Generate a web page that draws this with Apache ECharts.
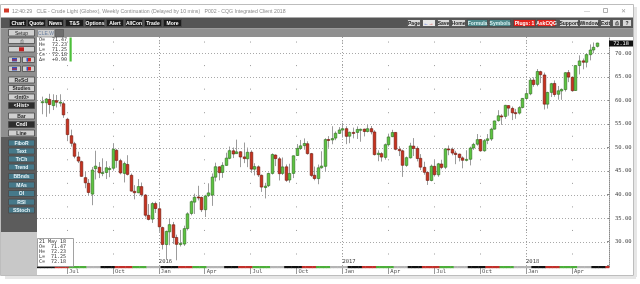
<!DOCTYPE html>
<html><head><meta charset="utf-8">
<script src="https://cdn.jsdelivr.net/npm/echarts@6/dist/echarts.min.js"></script>
<style>html,body{margin:0;padding:0;background:#fff}#c{width:640px;height:284px}</style>
</head><body><div id="c"></div>
<script>
// ---- DATA: CLE weekly continuation, weeks starting 2015-05-18 ----
const firstWeek = '2015-05-18';
const openP = [59.65,59.50,60.20,58.90,59.95,59.60,59.30,56.00,52.50,50.80,
48.00,47.00,43.60,42.40,40.10,45.50,45.80,44.60,44.70,45.50,
45.60,49.40,47.20,44.50,46.40,44.10,40.70,40.40,41.70,39.90,
35.60,34.80,38.10,37.00,33.00,29.40,32.10,33.60,30.90,29.40,
29.50,32.80,36.00,38.40,39.50,39.40,36.80,39.80,39.90,43.70,
45.90,44.70,46.20,47.70,49.30,48.70,49.10,48.00,47.60,49.00,
45.40,45.90,44.10,41.50,41.90,44.50,48.40,47.60,44.50,45.90,
43.10,44.50,48.30,49.80,50.40,50.80,48.70,44.10,43.40,45.70,
46.00,51.70,51.60,52.00,53.00,53.70,54.00,52.40,53.20,53.20,
53.80,53.90,53.40,54.00,53.30,48.50,48.70,47.90,50.60,52.30,
53.20,49.60,49.30,46.20,47.80,50.30,49.80,47.70,45.80,44.70,
43.00,46.00,44.20,46.50,45.80,49.70,49.60,48.80,48.60,47.80,
47.30,47.50,49.90,50.70,51.70,49.30,51.50,51.80,53.90,55.70,
56.70,56.60,58.90,58.30,57.40,57.30,58.50,60.40,61.40,64.30,
63.40,66.10,65.40,59.20,61.70,63.60,61.30,62.00,62.30,65.90,
64.90,62.10,67.40,68.40,68.10,69.70,70.70,71.47];
const highP = [60.80,60.50,61.40,61.30,61.15,61.30,59.73,56.30,53.80,51.20,
49.10,47.20,44.80,43.30,45.85,49.32,46.90,47.70,47.10,46.00,
50.92,49.70,47.60,47.00,48.36,44.48,42.00,43.30,42.56,40.12,
38.00,38.40,38.50,38.39,33.20,32.35,34.82,34.20,31.50,32.50,
33.40,36.25,38.74,40.20,41.87,39.58,39.96,42.40,44.49,46.78,
46.00,46.87,48.89,50.21,50.00,51.67,49.17,51.05,49.98,49.40,
46.66,46.20,44.26,42.50,44.66,48.75,48.53,48.00,47.88,46.40,
46.55,48.30,50.74,51.60,51.93,51.32,48.85,45.95,46.38,49.20,
51.97,52.42,54.51,53.41,54.33,55.24,54.50,53.38,54.22,54.48,
54.02,54.00,54.94,54.56,53.67,49.40,49.00,50.85,52.94,53.76,
53.26,50.25,49.53,48.08,51.00,52.00,50.24,48.60,46.98,44.90,
46.38,47.32,46.73,47.40,49.80,50.43,50.00,49.30,48.70,48.12,
49.42,50.18,51.00,52.86,51.80,51.80,52.86,54.20,55.70,57.92,
57.08,59.05,58.95,58.70,58.20,58.78,60.51,62.21,64.77,64.89,
66.66,66.30,65.90,61.84,63.73,64.24,63.06,62.53,66.00,66.45,
65.10,67.45,69.56,68.89,70.00,71.89,72.30,72.23];
const lowP = [57.06,56.51,57.19,57.95,58.50,58.70,56.30,51.35,50.20,47.70,
46.70,43.80,41.35,39.86,37.75,43.21,43.51,43.90,43.30,43.70,
45.10,45.70,44.30,42.58,44.06,40.66,38.99,40.30,39.56,35.16,
34.53,33.98,36.10,32.10,28.36,26.19,29.25,29.52,26.05,28.98,
29.10,32.40,35.61,35.89,38.76,36.30,35.24,39.50,37.61,42.80,
43.03,43.56,46.10,47.50,47.75,48.65,45.83,46.68,45.83,44.60,
44.07,43.75,40.57,39.19,41.60,44.25,46.05,43.00,44.16,42.71,
42.52,43.50,48.23,49.50,49.54,48.48,43.76,43.03,42.20,45.50,
44.82,49.94,50.70,51.55,52.86,52.11,50.71,50.91,51.94,51.81,
51.22,52.35,53.20,52.80,48.30,47.09,47.01,47.41,50.20,52.20,
49.41,48.18,43.76,45.90,47.66,48.18,47.05,45.20,44.22,42.05,
42.82,43.83,43.77,45.40,45.40,48.36,48.35,46.46,47.05,45.58,
47.05,46.20,49.50,50.40,49.10,49.10,50.71,51.40,53.80,55.50,
54.80,56.10,56.75,55.82,56.10,57.00,58.30,60.10,61.10,62.90,
63.00,63.67,58.07,58.26,60.71,60.77,60.15,60.12,61.88,63.87,
61.84,62.05,65.52,66.60,67.00,68.50,70.00,71.25];
const closeP = [59.72,60.30,59.13,59.96,59.61,59.63,56.93,52.74,50.89,48.14,
47.12,43.87,42.50,40.45,45.22,46.05,44.63,44.68,45.70,45.54,
49.63,47.26,44.60,46.59,44.29,40.74,40.39,41.71,39.97,35.62,
34.73,38.10,37.04,33.16,29.42,32.19,33.62,30.89,29.44,29.64,
32.78,35.92,38.50,39.44,39.46,36.79,39.72,40.36,43.73,45.92,
44.66,46.21,47.75,49.33,48.62,49.07,47.98,47.64,48.99,45.41,
45.95,44.19,41.60,41.80,44.49,48.52,47.64,44.44,45.88,43.03,
44.48,48.24,49.81,50.35,50.85,48.70,44.07,43.41,45.69,46.06,
51.68,51.50,51.90,53.02,53.72,53.99,52.37,53.22,53.17,53.83,
53.86,53.40,53.99,53.33,48.49,48.78,47.97,50.60,52.24,53.18,
49.62,49.33,46.22,47.84,50.33,49.80,47.66,45.83,44.74,43.01,
46.04,44.23,46.54,45.77,49.71,49.58,48.82,48.51,47.87,47.29,
47.48,49.89,50.66,51.67,49.29,51.45,51.84,53.90,55.64,56.74,
56.55,58.95,58.36,57.36,57.30,58.47,60.42,61.44,64.30,63.37,
66.14,65.45,59.20,61.68,63.55,61.25,62.04,62.34,65.88,64.94,
62.06,67.39,68.38,68.10,69.72,70.70,71.28,72.18];
const priceTicks = [30,35,40,45,50,55,60,65,70];
const monthNames = ['Jan','Feb','Mar','Apr','May','Jun','Jul','Aug','Sep','Oct','Nov','Dec'];
const lastBar = {date:'21 May 18', o:'71.47', h:'72.23', l:'71.25', c:'72.18', d:'+0.90'};

// ---- categories (one weekly slot per bar, padded) ----
const DAY = 864e5;
const t0 = Date.parse(firstWeek + 'T00:00:00Z');
const lead = 1, trail = 3, nBars = closeP.length;
function slotDate(i){ return new Date(t0 + (i - lead) * 7 * DAY); }
const categories = [];
for (let i = 0; i < lead + nBars + trail; i++) {
  categories.push(i >= lead && i < lead + nBars ? slotDate(i).toISOString().slice(0,10) : '');
}
function qStart(idx, v){ if(!v) return false; const m=+v.slice(5,7), d=+v.slice(8,10); return d<=7 && (m-1)%3===0; }
function yStart(idx, v){ if(!v) return false; const m=+v.slice(5,7), d=+v.slice(8,10); return d<=7 && m===1; }

const candleData = closeP.map((c,i)=>[i+lead, openP[i], c, lowP[i], highP[i]]);
const stripData = categories.map((v,i)=>[i, 24.63]);
const gridData = priceTicks.map(v=>[0, v]);

const UP='#5cc43f', UPB='#2d6a1f', DN='#c9321f', DNB='#6a150b', WICK='#9c9c9c';
const stripCols = ['#111111','#c0302a','#4cae3a','#b4b4b4'];

function renderCandle(params, api){
  const x=api.value(0), o=api.value(1), c=api.value(2), l=api.value(3), h=api.value(4);
  const pO=api.coord([x,o]), pC=api.coord([x,c]), pL=api.coord([x,l]), pH=api.coord([x,h]);
  const cx=Math.round(pO[0])+0.5;
  const w=2.6;
  const top=Math.min(pO[1],pC[1]), hh=Math.max(Math.abs(pO[1]-pC[1]),1);
  const up=c>=o;
  return {type:'group', children:[
    {type:'line', shape:{x1:cx,y1:pH[1],x2:cx,y2:pL[1]}, style:{stroke:WICK,lineWidth:1}},
    {type:'rect', shape:{x:cx-w/2,y:top,width:w,height:hh}, style:{fill:up?UP:DN, stroke:up?UPB:DNB, lineWidth:0.6}}
  ]};
}
function renderStrip(params, api){
  const i=api.value(0);
  const p=api.coord([i, api.value(1)]);
  const bw=api.size([1,0])[0];
  const d=new Date(t0 + (i-lead)*7*DAY - 10*DAY);
  const col=stripCols[d.getUTCMonth()%4];
  return {type:'rect', shape:{x:p[0]-bw/2,y:p[1]-1,width:bw+0.4,height:2.2}, style:{fill:col}};
}
function renderGrid(params, api){
  const p=api.coord([0, api.value(1)]);
  const cs=params.coordSys;
  const y=Math.round(p[1])+0.5;
  return {type:'line', shape:{x1:cs.x,y1:y,x2:cs.x+cs.width,y2:y}, style:{stroke:'#a8a8a8',lineWidth:1,lineDash:[1,2]}};
}

// ---- UI chrome as graphic elements ----
const G=[];
const UIF='"Liberation Sans"', MONO='"DejaVu Sans Mono"';
function rect(x,y,w,h,fill,stroke,lw,z){G.push({type:'rect',shape:{x:x,y:y,width:w,height:h},style:{fill:fill,stroke:stroke||null,lineWidth:lw||1},z:z||100,silent:true});}
function text(x,y,t,font,fill,align,z){G.push({type:'text',x:x,y:y,style:{text:t,font:font,fill:fill,align:align||'left',verticalAlign:'middle'},z:z||102,silent:true});}
function btn(x,y,w,h,label,bg,fg,bold,size){rect(x+0.5,y+0.5,w-1,h-1,bg,'#4a4a4a',0.8,101);text(x+w/2,y+h/2+0.4,label,(bold?'bold ':'')+(size||5)+'px '+UIF,fg,'center');}

// window shadow / frame
rect(634,7,3,270,'#e6e6e6',null,1,99);
rect(5,276,631,3,'#e6e6e6',null,1,99);
rect(0.5,4.5,633,271,null,'#bdbdbd',1,110);
// title bar
rect(1,5,632,12.5,'#ffffff');
rect(4,8.5,5,4,'#d23a2a');
text(12,11.2,'12:40:29   CLE - Crude Light (Globex), Weekly Continuation (Delayed by 10 mins)   P002 - CQG Integrated Client 2018','5.2px '+UIF,'#8c8c8c');
text(587,11,'\u2014','6px '+UIF,'#9a9a9a','center');
rect(603.5,8.5,4,4,null,'#9a9a9a',0.8,102);
text(623,11,'\u2715','6px '+UIF,'#9a9a9a','center');
// toolbar
rect(1,17.5,632,11,'#555555');
[[9,18,'Chart'],[27,19,'Quote'],[47,17,'News'],[65,19,'T&S'],[85,20,'Options'],[106,18,'Alert'],[125,18,'AllCon'],[144,18,'Trade'],[163,19,'More']]
  .forEach(b=>btn(b[0],19,b[1],8,b[2],'#1c1c1c','#ffffff',true));
[[407,14,'Page','#d8d8d8','#222'],[422,14,'',null,null],[437,13,'Save','#d8d8d8','#222'],[451,15,'Home','#d8d8d8','#222'],
 [467,21,'Formula','#4e898b','#d9f1f1'],[489,22,'Symbols','#4e898b','#d9f1f1'],[513,23,'Plugs: 1','#e2221d','#ffffff'],
 [537,19,'AskCQG','#e2221d','#ffffff'],[559,20,'Support','#d8d8d8','#222'],[579,20,'Window','#d8d8d8','#222'],
 [600,11,'Exit','#d8d8d8','#222'],[612,9,'\u2399','#d8d8d8','#222'],[622,10,'?','#d8d8d8','#222']]
  .forEach(b=>{ if(b[3]) btn(b[0],19,b[1],8,b[2],b[3],b[4],true); else { rect(b[0]+0.5,19.5,b[1]-1,7,'#e8e8e8','#4a4a4a',0.8,101); text(b[0]+4,23.3,'\u2190','bold 5px '+UIF,'#2446c8','center'); text(b[0]+9,23.3,'\u2192','bold 5px '+UIF,'#d42020','center'); } });
// second row
rect(1,28.5,632,8.5,'#8f8f8f');
btn(8,29,27,7.5,'Setup','#d0d0d0','#222',false);
rect(37.5,29.5,17,7.5,'#cfcfcf','#777',0.6,101); text(46,33.4,'CLE.W','5px '+UIF,'#6a7f9e','center');
rect(55.5,29.5,8,7.5,'#6e6e6e','#555',0.6,101);
// left panel
rect(1,37,36,100,'#8f8f8f');
rect(1,137,36,95,'#5c5c5c');
rect(1,232,36,43.5,'#c8c8c8');
btn(8,37.5,27,6.5,'\u2399','#d0d0d0','#333',false,5);
btn(8,46,27,6.5,'','#d0d0d0','#333'); rect(19,47.3,5,4,'#c02020',null,1,103);
[[56.5],[65.5]].forEach(r=>{btn(8,r[0],13,6.5,'','#d0d0d0','#333'); btn(22,r[0],13,6.5,'','#d0d0d0','#333');
  rect(12,r[0]+1.5,5,3.5,'#3050c0',null,1,103); rect(12,r[0]+3,5,1,'#d02020',null,1,104);
  rect(27,r[0]+1.5,4,3.5,'#d02020',null,1,103); rect(26.5,r[0]+1.5,1.5,3.5,'#3050c0',null,1,104);});
[[76.5,'ReScl',0],[85,'Studies',0],[93.5,'<Int0>',0],[102,'<Hist>',1],[112.5,'Bar',0],[121,'Cndl',1],[129.5,'Line',0]]
  .forEach(b=>btn(8,b[0],27,7,b[1],b[2]?'#2e2e2e':'#d0d0d0',b[2]?'#ffffff':'#222',true));
[[139.5,'FiboR'],[147.5,'Text'],[155.5,'TrCh'],[163.5,'Trend'],[173,'BBnds'],[181.5,'MAs'],[190,'OI'],[198.5,'RSI'],[206.5,'SStoch']]
  .forEach(b=>btn(8,b[0],27,7,b[1],'#46798a','#e8f4f8',true));
// top-left readout
[['O=',lastBar.o],['H=',lastBar.h],['L=',lastBar.l],['C=',lastBar.c],['\u0394=',lastBar.d]].forEach((r,k)=>{
  text(39,39.5+k*5,r[0],'5px '+MONO,'#333'); text(67,39.5+k*5,r[1],'5px '+MONO,'#333','right');});
rect(69.5,37.5,2.2,24,'#4cbf3a');
// bottom-left readout box
rect(37.5,238.5,36,28,'#ffffff','#8a8a8a',0.8,101);
text(39,241.8,lastBar.date,'5px '+MONO,'#333');
[['O=',lastBar.o],['H=',lastBar.h],['L=',lastBar.l],['C=',lastBar.c]].forEach((r,k)=>{
  text(39,246.8+k*5,r[0],'5px '+MONO,'#333'); text(66,246.8+k*5,r[1],'5px '+MONO,'#333','right');});
// last price tag
rect(609,40.5,24,6,'#111111',null,1,101);
text(621,43.6,lastBar.c,'5.2px '+MONO,'#ffffff','center');

const chart = echarts.init(document.getElementById('c'), null, {renderer:'canvas'});
chart.setOption({
  animation:false,
  backgroundColor:'#ffffff',
  grid:{left:37, right:31, top:37, bottom:17},
  xAxis:[{
    type:'category', data:categories, boundaryGap:true,
    axisLine:{show:false},
    axisTick:{show:true, alignWithLabel:true, interval:qStart, length:7, lineStyle:{color:'#9a9a9a'}},
    axisLabel:{interval:qStart, formatter:v=>v?monthNames[+v.slice(5,7)-1]:'', align:'left', padding:[0,0,0,2], margin:2,
      fontSize:5.5, color:'#555', fontFamily:'DejaVu Sans Mono'},
    splitLine:{show:true, interval:qStart, alignWithLabel:true, lineStyle:{color:'#9a9a9a', width:1, type:[1,22.55], dashOffset:19}}
  },{
    type:'category', data:categories, boundaryGap:true, position:'bottom',
    axisLine:{show:false}, axisTick:{show:false},
    axisLabel:{inside:true, interval:yStart, formatter:v=>v?v.slice(0,4):'', align:'left', margin:2,
      fontSize:5.5, color:'#444', fontFamily:'DejaVu Sans Mono'},
    splitLine:{show:true, interval:yStart, alignWithLabel:true, lineStyle:{color:'#a0a0a0', width:1, type:[1,2]}}
  }],
  yAxis:{
    type:'value', position:'right', min:24.63, max:73.46, splitNumber:10,
    axisLine:{show:true, lineStyle:{color:'#8a8a8a', type:[1,1]}},
    axisTick:{show:true, inside:true, length:2, lineStyle:{color:'#8a8a8a'}},
    axisLabel:{showMinLabel:false, showMaxLabel:false, margin:6, color:'#444', fontSize:5.5, fontFamily:'DejaVu Sans Mono',
      formatter:v=>priceTicks.indexOf(Math.round(v*100)/100)>=0?v.toFixed(2):''},
    splitLine:{show:false}
  },
  series:[
    {type:'custom', name:'grid', renderItem:renderGrid, data:gridData, encode:{x:0,y:1}, silent:true, z:1},
    {type:'custom', name:'CLE', renderItem:renderCandle, data:candleData, encode:{x:0,y:[1,2,3,4]}, z:3},
    {type:'custom', name:'strip', renderItem:renderStrip, data:stripData, encode:{x:0,y:1}, silent:true, clip:false, z:4}
  ],
  graphic:{elements:G}
});
</script></body></html>
